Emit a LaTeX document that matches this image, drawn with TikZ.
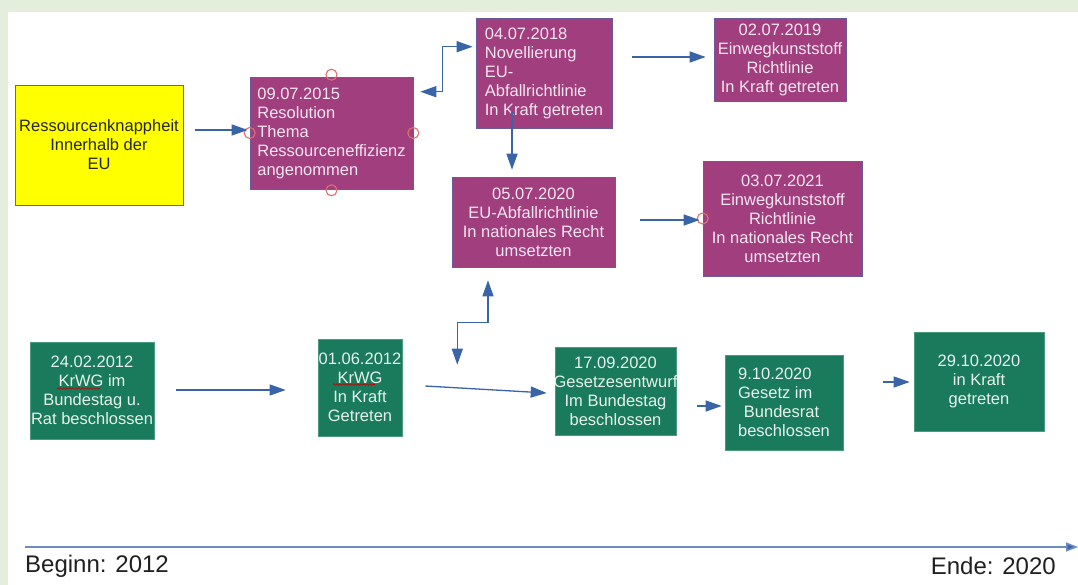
\documentclass[tikz,border=0pt]{standalone}
\usepackage{fontspec}
\setmainfont{Liberation Sans}
\usetikzlibrary{arrows.meta,calc,decorations.pathmorphing}
\definecolor{bgg}{HTML}{E4EEDC}
\definecolor{mag}{HTML}{A03E7E}
\definecolor{magb}{HTML}{6A5A9C}
\definecolor{magt}{HTML}{F4E6F0}
\definecolor{grn}{HTML}{1A7A5C}
\definecolor{grnb}{HTML}{4A9A80}
\definecolor{grnt}{HTML}{E6F3EC}
\definecolor{ylw}{HTML}{FFFF00}
\definecolor{ylwb}{HTML}{6E6E50}
\definecolor{arr}{HTML}{3A64A8}
\definecolor{tl}{HTML}{6A8CC0}
\definecolor{gluec}{HTML}{E07070}
\definecolor{lbl}{HTML}{202020}
\begin{document}
\begin{tikzpicture}[x=1pt,y=-1pt,
  box/.style={rectangle, inner sep=0pt, font=\fontsize{16.5}{19}\selectfont},
  magbox/.style={box, fill=mag, draw=magb, line width=0.6pt, text=magt},
  grnbox/.style={box, fill=grn, draw=grnb, line width=0.6pt, text=grnt},
  ylwbox/.style={box, fill=ylw, draw=ylwb, line width=0.9pt, text=black!85},
  conn/.style={draw=arr, line width=1.3pt, -{Triangle[length=16pt,width=11pt]}},
  conndbl/.style={draw=arr, line width=1.3pt, {Triangle[length=16pt,width=11pt]}-{Triangle[length=16pt,width=11pt]}},
  glue/.style={circle, draw=gluec, line width=1.1pt, minimum size=11pt, inner sep=0pt},
  spell/.style={draw=red!75!black, line width=0.6pt, decorate, decoration={snake, amplitude=0.8pt, segment length=3pt}},
  lblstyle/.style={font=\fontsize{24}{28}\selectfont, text=lbl, inner sep=0pt}
]
\fill[bgg] (0,0) rectangle (1078,585);
\fill[white] (8,12) rectangle (1078,585);
\useasboundingbox (0,0) rectangle (1078,585);

% EU row boxes
\node[ylwbox, minimum width=168pt, minimum height=120pt, align=center] (y) at (99,145)
  {Ressourcenknappheit\\Innerhalb der\\EU};
\node[magbox, minimum width=163pt, minimum height=112pt, align=left] (r15) at (331.5,133)
  {09.07.2015\\Resolution\\Thema\\Ressourceneffizienz\\angenommen};
\node[magbox, minimum width=136pt, minimum height=110pt, align=left] (n18) at (544,73)
  {04.07.2018\\Novellierung\\EU-\\Abfallrichtlinie\\In Kraft getreten};
\node[magbox, minimum width=132pt, minimum height=83pt, align=center] (e19) at (780,59.5)
  {02.07.2019\\Einwegkunststoff\\Richtlinie\\In Kraft getreten};
\node[magbox, minimum width=163pt, minimum height=90pt, align=center] (a20) at (533.5,222)
  {05.07.2020\\EU-Abfallrichtlinie\\In nationales Recht\\umsetzten};
\node[magbox, minimum width=159pt, minimum height=115pt, align=center] (e21) at (782.5,218.5)
  {03.07.2021\\Einwegkunststoff\\Richtlinie\\In nationales Recht\\umsetzten};

% German row boxes
\node[grnbox, minimum width=124pt, minimum height=97pt, align=center] (k12) at (92,390.5)
  {24.02.2012\\KrWG im\\Bundestag u.\\Rat beschlossen};
\node[grnbox, minimum width=84pt, minimum height=97pt, align=center] (k12b) at (360,387.5)
  {01.06.2012\\KrWG\\In Kraft\\Getreten};
\node[grnbox, minimum width=121pt, minimum height=88pt, align=center] (g20) at (615.5,391)
  {17.09.2020\\\makebox[121pt]{Gesetzesentwurf}\\Im Bundestag\\beschlossen};
\node[grnbox, minimum width=118pt, minimum height=95pt, align=left] (b20) at (784,402.5)
  {9.10.2020\\Gesetz im\\\hspace{0.35em}Bundesrat\\beschlossen};
\node[grnbox, minimum width=130pt, minimum height=99pt, align=center] (k20) at (979,381.5)
  {29.10.2020\\in Kraft\\getreten};

% spell-check underlines
\draw[spell] ($(k12)+(-35,-2)$) -- ($(k12)+(8,-2)$);
\draw[spell] ($(k12b)+(-27,-3)$) -- ($(k12b)+(15,-3)$);

% glue point markers
\node[glue] at ($(r15.north)+(0,-2)$) {};
\node[glue] at ($(r15.south)+(0,1)$) {};
\node[glue] at (r15.east) {};
\node[glue] at (r15.west) {};
\node[glue] at (e21.west) {};

% connectors
\draw[conn] ($(y.east |- r15.west)+(12,-3)$) -- ($(r15.west)+(-2,-3)$);
\draw[conndbl] ($(r15.north east)+(7,15)$) -- ++(22,0) |- ($(n18.north west)+(-3,29)$);
\draw[conn] ($(n18.east)+(20,-16)$) -- ($(e19.west)+(-8,-2.5)$);
\draw[conn] ($(n18.south)+(-32,-16)$) -- ($(a20.north)+(-21.5,-7)$);
\draw[conn] ($(a20.east)+(25,-2)$) -- ($(e21.west)+(-3,1.5)$);
\draw[conndbl] ($(a20.south)+(-45.5,13)$) -- ++(0,42) -| ($(k12b.north east)+(55,26)$);
\draw[conn] ($(k12.east)+(22,-0.5)$) -- ($(k12b.west)+(-32,2.5)$);
\draw[conn] ($(k12b.east)+(23,-1.5)$) -- ($(g20.west)+(-8,2)$);
\draw[conn] ($(g20.east)+(21,15)$) -- ($(b20.west)+(-3,3.5)$);
\draw[conn] ($(b20.east)+(40,-20.5)$) -- ($(k20.west)+(-4,0.5)$);

% timeline
\coordinate (t0) at (25,547);
\coordinate (t1) at (1078,547);
\draw[draw=tl, line width=1.5pt, -{Triangle[length=12pt,width=9pt,fill=arr]}] (t0) -- (t1);
\node[lblstyle, anchor=west] (beg) at (25,566) {Beginn: 2012};
\node[lblstyle, anchor=east] (end) at (1056,566) {Ende: 2020};
\end{tikzpicture}
\end{document}
